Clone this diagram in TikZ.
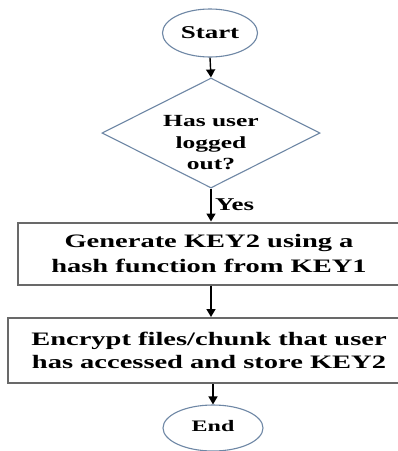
\documentclass[tikz,border=0pt]{standalone}
\usepackage{fontspec}
\setmainfont{Liberation Serif}[FakeStretch=1.5]
\usetikzlibrary{shapes.geometric,arrows.meta}
\definecolor{rimblue}{RGB}{110,135,165}
\definecolor{boxgray}{RGB}{105,105,105}
\tikzset{
  term/.style={ellipse,draw=rimblue,line width=1.1pt,inner sep=1pt,font=\bfseries\fontsize{18}{22}\selectfont},
  decision/.style={diamond,draw=rimblue,line width=1.1pt,inner sep=0pt,minimum width=218pt,minimum height=110pt},
  qtext/.style={align=center,font=\bfseries\fontsize{17}{21.5}\selectfont},
  process/.style={rectangle,draw=boxgray,line width=2pt,align=center,font=\bfseries\fontsize{19}{25}\selectfont},
  flow/.style={line width=1.4pt,-{Triangle[length=8pt,width=9pt]}}
}
\begin{document}
\begin{tikzpicture}[x=1pt,y=-1pt]
\useasboundingbox [fill=white] (0,0) rectangle (398,451);
\node (start) at (210,33) [term,minimum width=95pt,minimum height=48pt] {\raisebox{-5pt}{Start}};
\node (ask) at (211,133) [decision] {};
\node (asktext) at (211,143) [qtext] {Has user\\logged\\out?};
\node (gen) at (209,253.5) [process,minimum width=382pt,minimum height=62pt] {Generate KEY2 using a\\hash function from KEY1};
\node (enc) at (209,350.5) [process,minimum width=402pt,minimum height=65pt,font=\bfseries\fontsize{19}{23}\selectfont] {Encrypt files/chunk that user\\has accessed and store KEY2};
\node (end) at (213,428) [term,minimum width=100pt,minimum height=46pt,font=\bfseries\fontsize{16}{20}\selectfont] {\raisebox{5pt}{End}};
\draw [flow] (start.south) -- (ask.north);
\draw [flow] (ask.south) -- (ask.south |- gen.north) node [midway,right,font=\bfseries\fontsize{18}{22}\selectfont] {Yes};
\draw [flow] (ask.south |- gen.south) -- (ask.south |- enc.north);
\draw [flow] (end.north |- enc.south) -- (end.north);
\end{tikzpicture}
\end{document}
